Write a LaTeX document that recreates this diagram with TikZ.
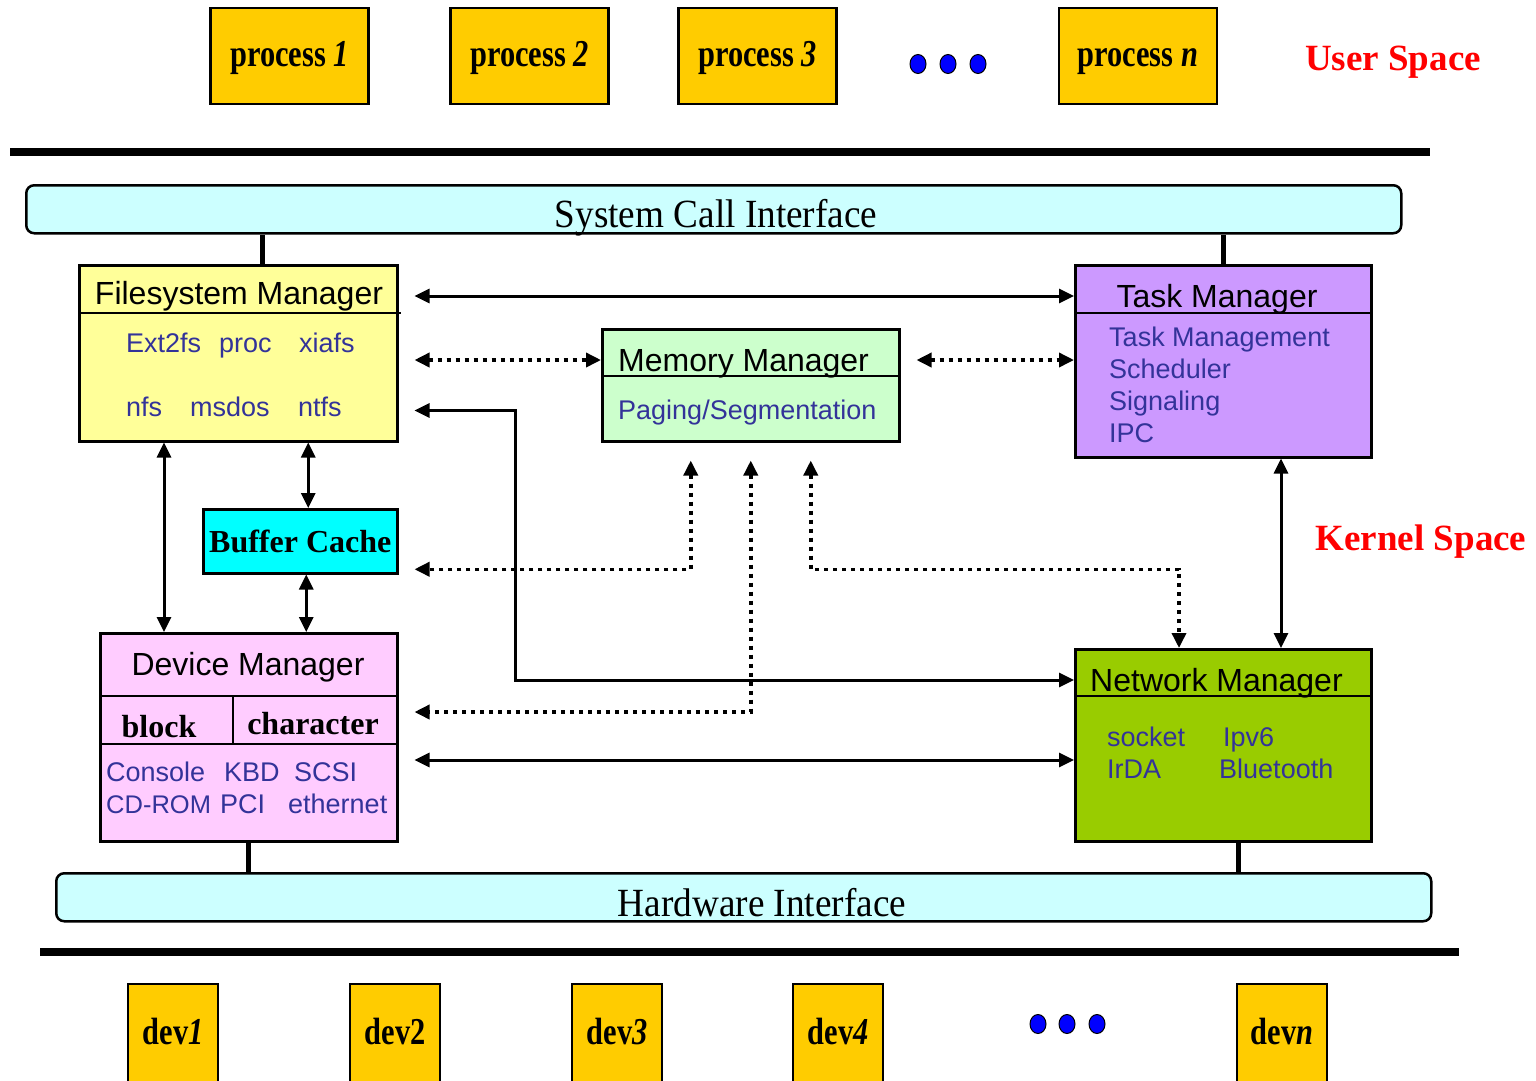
\documentclass[tikz,border=0pt]{standalone}
\usepackage{fontspec}
\setmainfont{Liberation Serif}
\setsansfont{Liberation Sans}
\newfontfamily\condserif[FakeStretch=0.8]{Liberation Serif}
\newfontfamily\ifaceserif[FakeStretch=0.93]{Liberation Serif}
\usetikzlibrary{positioning,shapes.geometric,arrows.meta,calc}
\definecolor{procyellow}{RGB}{255,204,0}
\definecolor{ifacecyan}{RGB}{204,255,255}
\definecolor{fsyellow}{RGB}{255,255,153}
\definecolor{taskpurple}{RGB}{204,153,255}
\definecolor{memgreen}{RGB}{204,255,204}
\definecolor{bufcyan}{RGB}{0,255,255}
\definecolor{devpink}{RGB}{255,204,255}
\definecolor{netgreen}{RGB}{153,204,0}
\definecolor{itemblue}{RGB}{51,51,153}
\definecolor{dotblue}{RGB}{0,0,255}

\begin{document}
\begin{tikzpicture}[x=1pt,y=-1pt,
    box/.style={draw,rectangle,line width=2.5pt,inner sep=0pt,anchor=north west},
    procbox/.style={draw,rectangle,line width=2.5pt,fill=procyellow,inner sep=0pt,
      text height=20pt,text depth=0pt,
      minimum height=96pt,font=\condserif\bfseries\fontsize{38}{40}\selectfont},
    iface/.style={box,fill=ifacecyan,rounded corners=8pt,minimum width=1375pt,minimum height=48pt},
    ifacetext/.style={inner sep=0pt,anchor=base,font=\ifaceserif\fontsize{40}{44}\selectfont},
    title/.style={inner sep=0pt,anchor=base,font=\sffamily\fontsize{32}{36}\selectfont},
    item/.style={inner sep=0pt,anchor=base west,text=itemblue,font=\sffamily\fontsize{27}{30}\selectfont},
    kind/.style={inner sep=0pt,anchor=base,font=\bfseries\fontsize{32}{36}\selectfont},
    space/.style={inner sep=0pt,anchor=base,text=red,font=\bfseries\fontsize{37}{40}\selectfont},
    dot/.style={ellipse,draw,line width=1pt,fill=dotblue,minimum width=16pt,minimum height=19pt,inner sep=0pt},
    bar/.style={line width=8pt},
    link/.style={line width=5pt},
    divider/.style={line width=2.5pt},
    both/.style={{Triangle[length=15pt,width=14pt]}-{Triangle[length=15pt,width=14pt]},line width=3pt},
    dotboth/.style={both,line width=3.5pt,dash pattern=on 4pt off 5pt}
  ]
  \useasboundingbox (0,0) rectangle (1536,1080);

  % user space
  \foreach \i/\cx in {1/289.5,2/529.5,3/757.5,n/1138}
    \node[procbox,minimum width=158pt] (proc\i) at (\cx,56) {process \textit{\i}};
  \foreach \i/\cx in {1/918,2/948,3/978}
    \node[dot] (udot\i) at (\cx,64) {};
  \node[space] (user) at (1393,70) {User Space};
  \draw[bar] (10,152) -- (1430,152);

  % system call interface
  \node[iface] (sci) at (25,184) {};
  \node[ifacetext] (scitext) at (716,227) {System Call Interface};

  % the managers
  \node[box,fill=fsyellow,minimum width=318pt,minimum height=176pt] (fs) at (78,264) {};
  \node[box,fill=taskpurple,minimum width=296pt,minimum height=192pt] (task) at (1074,264) {};
  \node[box,fill=memgreen,minimum width=297pt,minimum height=112pt] (mm) at (601,328) {};
  \node[box,fill=bufcyan,minimum width=194pt,minimum height=64pt,
    font=\bfseries\fontsize{32}{36}\selectfont] (bc) at (202,508) {Buffer Cache};
  \node[box,fill=devpink,minimum width=297pt,minimum height=208pt] (dm) at (99,632) {};
  \node[box,fill=netgreen,minimum width=296pt,minimum height=192pt] (net) at (1074,648) {};

  \draw[divider] ([yshift=-49pt]fs.north west) -- ([yshift=-49pt,xshift=2pt]fs.north east);
  \draw[divider] ([yshift=-49pt]task.north west) -- ([yshift=-49pt]task.north east);
  \draw[divider] ([yshift=-48pt]mm.north west) -- ([yshift=-48pt]mm.north east);
  \draw[divider] ([yshift=-64pt]dm.north west) -- ([yshift=-64pt]dm.north east);
  \draw[divider] ([yshift=-112pt]dm.north west) -- ([yshift=-112pt]dm.north east);
  \draw[divider] ([xshift=134pt,yshift=-64pt]dm.north west) -- ([xshift=134pt,yshift=-112pt]dm.north west);
  \draw[divider] ([yshift=-48pt]net.north west) -- ([yshift=-48pt]net.north east);

  % titles
  \node[title] (fstitle) at (239,304) {Filesystem Manager};
  \node[title] (tasktitle) at (1217,307) {Task Manager};
  \node[title,anchor=base west] (mmtitle) at (618,371) {Memory Manager};
  \node[title] (dmtitle) at (248,675) {Device Manager};
  \node[title,anchor=base west] (nettitle) at (1090,691) {Network Manager};
  \node[kind] (block) at (159,737) {block};
  \node[kind] (char) at (313,734) {character};

  % the items
  \node[item] (ext) at (126,352) {Ext2fs};
  \node[item] (proc) at (219,352) {proc};
  \node[item] (xia) at (299,352) {xiafs};
  \node[item] (nfs) at (126,416) {nfs};
  \node[item] (msdos) at (190,416) {msdos};
  \node[item] (ntfs) at (298,416) {ntfs};
  \node[item] (tmgmt) at (1109,346) {Task Management};
  \node[item] (sched) at (1109,378) {Scheduler};
  \node[item] (signal) at (1109,410) {Signaling};
  \node[item] (ipc) at (1109,442) {IPC};
  \node[item] (paging) at (618,419) {Paging/Segmentation};
  \node[item] (console) at (106,781) {Console};
  \node[item] (kbd) at (224,781) {KBD};
  \node[item] (scsi) at (294,781) {SCSI};
  \node[item,font=\sffamily\fontsize{25.5}{30}\selectfont] (cdrom) at (106,813) {CD-ROM};
  \node[item] (pci) at (220,813) {PCI};
  \node[item] (eth) at (288,813) {ethernet};
  \node[item] (socket) at (1107,746) {socket};
  \node[item] (ipv) at (1223,746) {Ipv6};
  \node[item] (irda) at (1107,778) {IrDA};
  \node[item] (blue) at (1219,778) {Bluetooth};

  \node[space] (kernel) at (1421,550) {Kernel Space};

  % hardware interface
  \node[iface] (hw) at (55,872) {};
  \node[ifacetext] (hwtext) at (762,916) {Hardware Interface};

  % links to the interfaces
  \draw[link] ([xshift=184pt]fs.north west) -- ([xshift=184pt]fs.north west |- sci.south);
  \draw[link] ([xshift=149pt]task.north west) -- ([xshift=149pt]task.north west |- sci.south);
  \draw[link] (dm.south) -- (dm.south |- hw.north);
  \draw[link] ([xshift=164pt]net.south west) -- ([xshift=164pt]net.south west |- hw.north);

  % the edges
  \coordinate (mmL) at ([yshift=-32pt]mm.north west);
  \coordinate (mmA) at ([xshift=-60pt,yshift=-18pt]mm.south);
  \coordinate (mmB) at ([yshift=-18pt]mm.south);
  \coordinate (mmC) at ([xshift=60pt,yshift=-18pt]mm.south);
  \coordinate (bcL) at ([yshift=-28pt]bc.east);
  \draw[both,shorten <=16pt] ([yshift=-32pt]fs.north east) -- ([yshift=-32pt]task.north west);
  \draw[dotboth,shorten <=16pt] (fs.east |- mmL) -- (mmL);
  \draw[dotboth,shorten <=16pt] (mm.east |- mmL) -- (task.west |- mmL);
  \draw[both,shorten <=16pt] ([yshift=32pt]fs.south east) -- ++(117,0) |- ([yshift=-32pt]net.north west);
  \draw[both] ([xshift=86pt]fs.south west) -- ([xshift=86pt]fs.south west |- dm.north);
  \draw[both] ([xshift=8pt]bc.north) -- ([xshift=8pt]bc.north |- fs.south);
  \draw[both] ([xshift=6pt]bc.south) -- ([xshift=6pt]bc.south |- dm.north);
  \draw[dotboth,shorten >=16pt] (mmA) |- (bcL);
  \draw[dotboth,shorten >=16pt] (mmB) |- ([yshift=-80pt]dm.north east);
  \draw[dotboth] (mmC) -- (mmC |- bcL) -| ([xshift=105pt]net.north west);
  \draw[both] ([xshift=207pt]task.south west) -- ([xshift=207pt]net.north west);
  \draw[both,shorten <=16pt] ([yshift=-128pt]dm.north east) -- ([yshift=-112pt]net.north west);

  % devices
  \draw[bar] (40,952) -- (1459,952);
  \foreach \i/\cx/\t in {1/173/\textit{1},2/395/2,3/617/\textit{3},4/838/\textit{4},n/1282/\textit{n}}
    \node[procbox,minimum width=90pt,minimum height=100pt] (dev\i) at (\cx,1034) {dev\t};
  \foreach \i/\cx in {1/1038,2/1067,3/1097}
    \node[dot] (ddot\i) at (\cx,1024) {};
\end{tikzpicture}
\end{document}
